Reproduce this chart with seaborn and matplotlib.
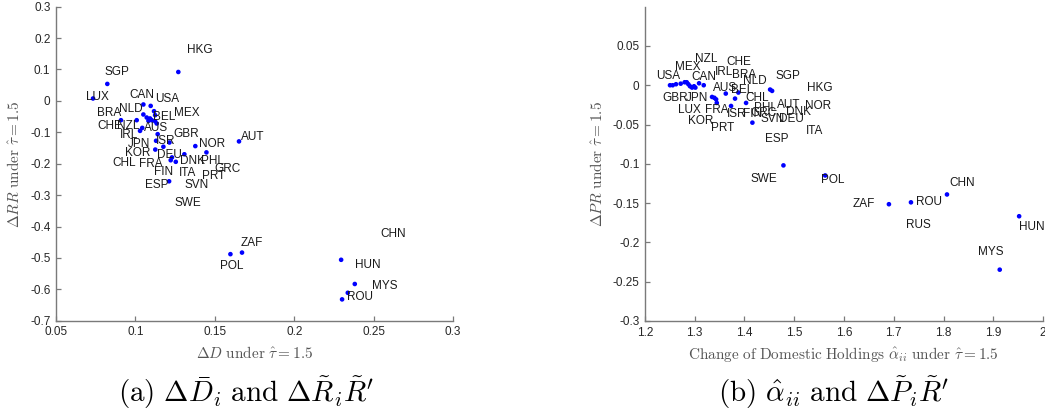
import matplotlib
matplotlib.use("Agg")
import matplotlib.pyplot as plt
import seaborn as sns
import pandas as pd

# ---------------- data: panel (a) ----------------
a_pt_x = [0.127, 0.0823, 0.0733, 0.105, 0.1096, 0.105, 0.1117, 0.1071, 0.1092, 0.1082,
          0.1103, 0.1124, 0.1124, 0.0909, 0.1008, 0.1043, 0.1029, 0.1134, 0.114, 0.113,
          0.1214, 0.1176, 0.1125, 0.1377, 0.1447, 0.1652, 0.1308, 0.123, 0.1254, 0.1222,
          0.1212, 0.1598, 0.1671, 0.2295, 0.2381, 0.2337, 0.2301]
a_pt_y = [0.092, 0.054, 0.0076, -0.0115, -0.016, -0.0433, -0.0328, -0.053, -0.056, -0.0637,
          -0.0615, -0.0455, -0.065, -0.0615, -0.0615, -0.086, -0.0955, -0.072, -0.106, -0.127,
          -0.1325, -0.146, -0.155, -0.144, -0.164, -0.129, -0.17, -0.18, -0.194, -0.189,
          -0.256, -0.488, -0.483, -0.506, -0.583, -0.611, -0.632]

a_names = ["HKG", "SGP", "LUX", "CAN", "USA", "BRA", "NLD", "MEX", "BEL", "CHE", "NZL",
           "AUS", "IRL", "GBR", "JPN", "ISR", "NOR", "AUT", "KOR", "DEU", "DNK", "PHL",
           "CHL", "FRA", "GRC", "FIN", "ITA", "PRT", "ESP", "SVN", "SWE", "ZAF", "POL",
           "CHN", "HUN", "MYS", "ROU"]
a_lab_x = [0.1327, 0.0804, 0.0689, 0.0962, 0.1123, 0.076, 0.0895, 0.1241, 0.1113, 0.076, 0.0886,
           0.1054, 0.0899, 0.1241, 0.0953, 0.113, 0.1399, 0.1667, 0.0932, 0.1134, 0.1281, 0.1415,
           0.0857, 0.1025, 0.1497, 0.1119, 0.1275, 0.1421, 0.106, 0.1308, 0.1243, 0.1663, 0.1535,
           0.254, 0.2381, 0.249, 0.2334]
a_lab_y = [0.1615, 0.0924, 0.0127, 0.018, 0.0045, -0.037, -0.0255, -0.037, -0.051, -0.0806, -0.0806,
           -0.085, -0.108, -0.104, -0.136, -0.129, -0.136, -0.115, -0.166, -0.171, -0.192, -0.192,
           -0.199, -0.2016, -0.2175, -0.226, -0.229, -0.24, -0.2685, -0.2685, -0.3236, -0.452, -0.526,
           -0.4245, -0.522, -0.588, -0.624]

a_xticks = [0.05, 0.1, 0.15, 0.2, 0.25, 0.3]
a_yticks = [0.3, 0.2, 0.1, 0, -0.1, -0.2, -0.3, -0.4, -0.5, -0.6, -0.7]

# ---------------- data: panel (b) ----------------
b_pt_x = [1.2503, 1.2557, 1.2624, 1.2718, 1.2798, 1.2839, 1.2872, 1.2905, 1.2946, 1.2986,
          1.3013, 1.3087, 1.3181, 1.3348, 1.3395, 1.343, 1.3443, 1.3624, 1.381, 1.3877,
          1.373, 1.4032, 1.4159, 1.4515, 1.4555, 1.4783, 1.5622, 1.807, 1.6903, 1.7346,
          1.952, 1.913]
b_pt_y = [0.0, 0.0, 0.0013, 0.002, 0.0038, 0.0038, 0.0013, -0.0013, -0.003, -0.0013,
          -0.003, 0.0025, 0.0, -0.0149, -0.016, -0.018, -0.0225, -0.0106, -0.017, -0.0093,
          -0.0264, -0.0225, -0.0476, -0.0055, -0.0072, -0.102, -0.1148, -0.139, -0.1514, -0.149,
          -0.1667, -0.2347]

b_names = ["USA", "MEX", "NZL", "CAN", "CHE", "IRL", "BRA", "NLD", "SGP", "HKG", "AUS", "BEL",
           "GBR", "JPN", "CHL", "LUX", "FRA", "ISR", "FIN", "GRC", "PHL", "SVN", "DEU", "AUT",
           "DNK", "NOR", "KOR", "PRT", "ITA", "ESP", "SWE", "POL", "CHN", "ZAF", "ROU", "RUS",
           "HUN", "MYS"]
b_lab_x = [1.2215, 1.261, 1.30, 1.2926, 1.3644, 1.3395, 1.3757, 1.3966, 1.4622, 1.5266, 1.3362, 1.3737,
           1.2356, 1.2818, 1.4018, 1.267, 1.3213, 1.3644, 1.3973, 1.4113, 1.4193, 1.4314, 1.4702, 1.465,
           1.4837, 1.5219, 1.2859, 1.3328, 1.5233, 1.4414, 1.4126, 1.5535, 1.8123, 1.6179, 1.7453, 1.7238,
           1.952, 1.8686]
b_lab_y = [0.0115, 0.0234, 0.0332, 0.0106, 0.0293, 0.017, 0.0128, 0.0051, 0.0115, -0.0034, -0.003, -0.0064,
           -0.0162, -0.0162, -0.0166, -0.031, -0.0319, -0.0361, -0.0361, -0.0353, -0.0285, -0.0434, -0.0434, -0.0255,
           -0.034, -0.0264, -0.0455, -0.054, -0.0587, -0.068, -0.119, -0.1203, -0.1246, -0.151, -0.1492, -0.1777,
           -0.18, -0.2126]

b_xticks = [1.2, 1.3, 1.4, 1.5, 1.6, 1.7, 1.8, 1.9, 2.0]
b_yticks = [0.05, 0, -0.05, -0.1, -0.15, -0.2, -0.25, -0.3]

# ---------------- drawing ----------------
sns.set_style("white")
plt.rcParams["font.family"] = ["Liberation Sans", "DejaVu Sans"]
plt.rcParams["mathtext.fontset"] = "cm"
plt.rcParams["axes.unicode_minus"] = False

fig = plt.figure(figsize=(10.45, 4.16), dpi=100)
ax1 = fig.add_axes([0.0536, 0.229, 0.380, 0.755])
ax2 = fig.add_axes([0.6172, 0.2284, 0.3809, 0.7556])

axis_col = "#7a7a7a"
tick_col = "#262626"
label_col = "#555555"


def fmt(v):
    return ("%g" % v)


def style(ax, xticks, yticks, xlim, ylim):
    ax.set_xlim(*xlim)
    ax.set_ylim(*ylim)
    ax.set_xticks(xticks)
    ax.set_xticklabels([fmt(v) for v in xticks])
    ax.set_yticks(yticks)
    ax.set_yticklabels([fmt(v) for v in yticks])
    for s in ["top", "right"]:
        ax.spines[s].set_visible(False)
    for s in ["left", "bottom"]:
        ax.spines[s].set_color(axis_col)
        ax.spines[s].set_linewidth(1.0)
    ax.tick_params(direction="in", length=3.5, width=0.9, color=axis_col,
                   labelsize=8.5, labelcolor=tick_col, pad=4,
                   left=True, bottom=True)
    ax.grid(False)


df_a = pd.DataFrame({"x": a_pt_x, "y": a_pt_y})
sns.scatterplot(data=df_a, x="x", y="y", ax=ax1, color="#0000ff", s=11,
                edgecolor="none", linewidth=0, legend=False)
for n, x, y in zip(a_names, a_lab_x, a_lab_y):
    ax1.text(x, y, n, ha="left", va="center", fontsize=8.5, color="#1a1a1a", clip_on=False)
style(ax1, a_xticks, a_yticks, (0.05, 0.3), (-0.7, 0.3))
ax1.set_xlabel(r"$\Delta D\ \mathrm{under}\ \hat{\tau} = 1.5$", fontsize=11, color=label_col)
ax1.set_ylabel(r"$\Delta RR\ \mathrm{under}\ \hat{\tau} = 1.5$", fontsize=11, color=label_col)
ax1.xaxis.set_label_coords(0.5, -0.078)
ax1.yaxis.set_label_coords(-0.086, 0.5)

df_b = pd.DataFrame({"x": b_pt_x, "y": b_pt_y})
sns.scatterplot(data=df_b, x="x", y="y", ax=ax2, color="#0000ff", s=11,
                edgecolor="none", linewidth=0, legend=False)
for n, x, y in zip(b_names, b_lab_x, b_lab_y):
    ax2.text(x, y, n, ha="left", va="center", fontsize=8.5, color="#1a1a1a", clip_on=False)
style(ax2, b_xticks, b_yticks, (1.2, 2.0), (-0.3, 0.1))
ax2.set_xlabel(r"$\mathrm{Change\ of\ Domestic\ Holdings}\ \hat{\alpha}_{ii}\ \mathrm{under}\ \hat{\tau} = 1.5$",
               fontsize=11, color=label_col)
ax2.set_ylabel(r"$\Delta PR\ \mathrm{under}\ \hat{\tau} = 1.5$", fontsize=11, color=label_col)
ax2.xaxis.set_label_coords(0.498, -0.078)
ax2.yaxis.set_label_coords(-0.1005, 0.5)

fig.text(246 / 1045, 1 - 393 / 416,
         r"$\mathrm{(a)}\ \Delta\bar{D}_i\ \mathrm{and}\ \Delta\tilde{R}_i\tilde{R}'$",
         ha="center", va="center", fontsize=21, color="black")
fig.text(834 / 1045, 1 - 393 / 416,
         r"$\mathrm{(b)}\ \hat{\alpha}_{ii}\ \mathrm{and}\ \Delta\tilde{P}_i\tilde{R}'$",
         ha="center", va="center", fontsize=21, color="black")

fig.savefig("out.png", dpi=100)
